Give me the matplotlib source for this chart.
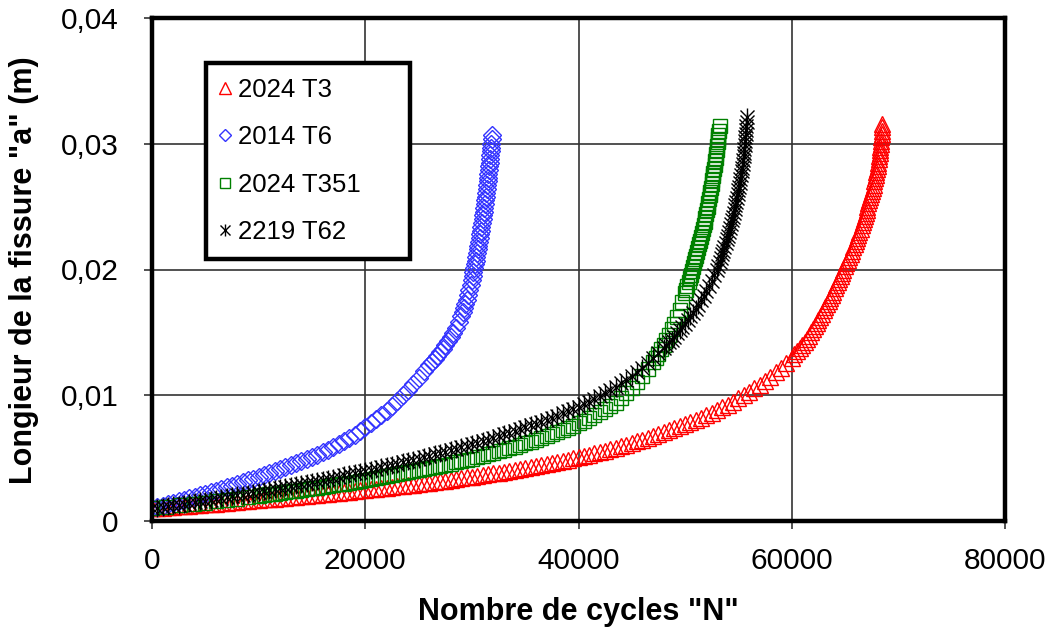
import numpy as np
import matplotlib
matplotlib.use('Agg')
import matplotlib.pyplot as plt
from matplotlib.ticker import FuncFormatter
from matplotlib.legend_handler import HandlerTuple

plt.rcParams['font.family'] = ['Liberation Sans', 'DejaVu Sans']

# (N cycles, crack length a in mm) for each alloy
pts_t3 = [
    (0, 1.00), (500, 1.03), (1000, 1.06), (1500, 1.10), (2000, 1.13), (2500, 1.16),
    (3000, 1.19), (3500, 1.23), (4000, 1.26), (4500, 1.29), (5000, 1.32), (5500, 1.36),
    (6000, 1.39), (6500, 1.43), (7000, 1.46), (7500, 1.50), (8000, 1.53), (8500, 1.57),
    (9000, 1.60), (9500, 1.64), (10000, 1.67), (10500, 1.71), (11000, 1.74), (11500, 1.78),
    (12000, 1.82), (12500, 1.86), (13000, 1.89), (13500, 1.93), (14000, 1.97), (14500, 2.01),
    (15000, 2.05), (15500, 2.09), (16000, 2.13), (16500, 2.17), (17000, 2.21), (17500, 2.26),
    (18000, 2.30), (18500, 2.34), (19000, 2.38), (19500, 2.43), (20000, 2.47), (20500, 2.52),
    (21000, 2.56), (21500, 2.61), (22000, 2.66), (22500, 2.70), (23000, 2.75), (23500, 2.80),
    (24000, 2.85), (24500, 2.90), (25000, 2.95), (25500, 3.00), (26000, 3.06), (26500, 3.11),
    (27000, 3.17), (27500, 3.22), (28000, 3.28), (28500, 3.34), (29000, 3.40), (29500, 3.46),
    (30000, 3.52), (30500, 3.58), (31000, 3.65), (31500, 3.71), (32000, 3.78), (32500, 3.85),
    (33000, 3.92), (33500, 3.99), (34000, 4.07), (34500, 4.14), (35000, 4.22), (35500, 4.30),
    (36000, 4.38), (36500, 4.46), (37000, 4.54), (37500, 4.62), (38000, 4.71), (38500, 4.80),
    (39000, 4.89), (39500, 4.98), (40000, 5.08), (40500, 5.18), (41000, 5.28), (41500, 5.38),
    (42000, 5.49), (42500, 5.60), (43000, 5.72), (43500, 5.83), (44000, 5.95), (44500, 6.07),
    (45000, 6.20), (45500, 6.33), (46000, 6.47), (46500, 6.61), (47000, 6.75), (47500, 6.89),
    (48000, 7.04), (48500, 7.20), (49000, 7.36), (49500, 7.53), (50000, 7.70), (50500, 7.87),
    (51000, 8.05), (51500, 8.23), (52000, 8.42), (52500, 8.62), (53000, 8.82), (53500, 9.03),
    (54000, 9.25), (54500, 9.50), (55000, 9.75), (55500, 10.01), (56000, 10.28), (56500, 10.56),
    (57000, 10.85), (57500, 11.16), (58000, 11.48), (58500, 11.82), (59000, 12.18), (59500, 12.58),
    (60000, 13.00), (60250, 13.25), (60500, 13.50), (60750, 13.75), (61000, 14.00), (61200, 14.25),
    (61400, 14.50), (61600, 14.75), (61800, 15.00), (61980, 15.25), (62150, 15.50), (62330, 15.75),
    (62500, 16.00), (62670, 16.25), (62830, 16.50), (62990, 16.75), (63150, 17.00), (63300, 17.25),
    (63450, 17.50), (63600, 17.75), (63750, 18.00), (63890, 18.25), (64030, 18.50), (64170, 18.75),
    (64300, 19.00), (64440, 19.25), (64580, 19.50), (64720, 19.75), (64850, 20.00), (64990, 20.25),
    (65130, 20.50), (65270, 20.75), (65400, 21.00), (65520, 21.25), (65650, 21.50), (65780, 21.75),
    (65900, 22.00), (66020, 22.25), (66130, 22.50), (66240, 22.75), (66350, 23.00), (66450, 23.25),
    (66550, 23.50), (66650, 23.75), (66750, 24.00), (66840, 24.25), (66930, 24.50), (67020, 24.75),
    (67100, 25.00), (67190, 25.25), (67280, 25.50), (67370, 25.75), (67450, 26.00), (67530, 26.25),
    (67600, 26.50), (67680, 26.75), (67750, 27.00), (67820, 27.25), (67880, 27.50), (67940, 27.75),
    (68000, 28.00), (68050, 28.25), (68100, 28.50), (68150, 28.75), (68200, 29.00), (68240, 29.25),
    (68280, 29.50), (68320, 29.75), (68350, 30.00), (68380, 30.25), (68400, 30.50), (68430, 30.75),
    (68450, 31.00), (68480, 31.30), (68500, 31.60)]

pts_t6 = [
    (0, 1.00), (500, 1.115), (1000, 1.23), (1500, 1.345), (2000, 1.46), (2500, 1.575),
    (3000, 1.69), (3500, 1.81), (4000, 1.93), (4500, 2.05), (5000, 2.17), (5500, 2.29),
    (6000, 2.42), (6500, 2.55), (7000, 2.68), (7500, 2.81), (8000, 2.95), (8500, 3.09),
    (9000, 3.23), (9500, 3.37), (10000, 3.51), (10500, 3.65), (11000, 3.80), (11500, 3.95),
    (12000, 4.10), (12500, 4.26), (13000, 4.42), (13500, 4.59), (14000, 4.76), (14500, 4.93),
    (15000, 5.10), (15500, 5.28), (16000, 5.47), (16500, 5.67), (17000, 5.88), (17500, 6.11),
    (18000, 6.35), (18500, 6.60), (19000, 6.87), (19500, 7.15), (20000, 7.45), (20500, 7.76),
    (21000, 8.08), (21500, 8.42), (22000, 8.78), (22500, 9.16), (23000, 9.56), (23500, 10.00),
    (24000, 10.45), (24500, 10.92), (25000, 11.40), (25500, 11.90), (26000, 12.40), (26250, 12.65),
    (26500, 12.90), (26750, 13.16), (27000, 13.42), (27250, 13.70), (27500, 13.98), (27750, 14.29),
    (28000, 14.60), (28250, 14.97), (28500, 15.35), (28750, 15.80), (29000, 16.30), (29130, 16.60),
    (29250, 16.90), (29380, 17.25), (29500, 17.60), (29630, 18.00), (29760, 18.40), (29880, 18.80),
    (30000, 19.20), (30070, 19.50), (30140, 19.80), (30210, 20.10), (30280, 20.40), (30345, 20.70),
    (30410, 21.00), (30475, 21.30), (30540, 21.60), (30600, 21.90), (30660, 22.20), (30720, 22.50),
    (30780, 22.80), (30840, 23.10), (30900, 23.40), (30955, 23.70), (31010, 24.00), (31060, 24.30),
    (31110, 24.60), (31160, 24.90), (31210, 25.20), (31255, 25.50), (31300, 25.80), (31345, 26.10),
    (31390, 26.40), (31430, 26.70), (31470, 27.00), (31510, 27.30), (31550, 27.60), (31590, 27.90),
    (31630, 28.20), (31665, 28.50), (31700, 28.80), (31735, 29.10), (31770, 29.40), (31805, 29.70),
    (31840, 30.00), (31885, 30.35), (31930, 30.70)]

pts_t351 = [
    (0, 1.00), (1300, 1.12), (2600, 1.24), (3900, 1.36), (5000, 1.47), (6000, 1.57),
    (7000, 1.67), (8000, 1.78), (9000, 1.89), (10000, 2.00), (10500, 2.055), (11000, 2.11),
    (11500, 2.17), (12000, 2.23), (12500, 2.29), (13000, 2.35), (13500, 2.41), (14000, 2.47),
    (14500, 2.53), (15000, 2.59), (15500, 2.655), (16000, 2.72), (16500, 2.785), (17000, 2.85),
    (17500, 2.915), (18000, 2.98), (18500, 3.05), (19000, 3.12), (19500, 3.19), (20000, 3.26),
    (20500, 3.33), (21000, 3.40), (21500, 3.475), (22000, 3.55), (22500, 3.625), (23000, 3.70),
    (23500, 3.78), (24000, 3.86), (24500, 3.94), (25000, 4.02), (25500, 4.105), (26000, 4.19),
    (26500, 4.28), (27000, 4.37), (27500, 4.465), (28000, 4.56), (28500, 4.66), (29000, 4.76),
    (29500, 4.865), (30000, 4.97), (30500, 5.08), (31000, 5.19), (31500, 5.30), (32000, 5.42),
    (32500, 5.54), (33000, 5.66), (33500, 5.78), (34000, 5.91), (34500, 6.04), (35000, 6.17),
    (35500, 6.31), (36000, 6.45), (36500, 6.60), (37000, 6.75), (37500, 6.91), (38000, 7.07),
    (38500, 7.24), (39000, 7.41), (39500, 7.59), (40000, 7.78), (40500, 7.98), (41000, 8.18),
    (41500, 8.40), (42000, 8.63), (42500, 8.88), (43000, 9.14), (43500, 9.42), (44000, 9.80),
    (44500, 10.20), (45000, 10.60), (45500, 11.05), (46000, 11.50), (46500, 12.05), (47000, 12.65),
    (47250, 12.97), (47500, 13.30), (47750, 13.64), (48000, 14.00), (48250, 14.39), (48500, 14.80),
    (48750, 15.24), (49000, 15.70), (49250, 16.23), (49500, 16.80), (49750, 17.43), (50000, 18.10),
    (50110, 18.40), (50220, 18.70), (50330, 19.00), (50440, 19.30), (50545, 19.60), (50650, 19.90),
    (50750, 20.20), (50850, 20.50), (50950, 20.80), (51050, 21.10), (51145, 21.40), (51240, 21.70),
    (51330, 22.00), (51420, 22.30), (51505, 22.60), (51590, 22.90), (51670, 23.20), (51750, 23.50),
    (51825, 23.80), (51900, 24.10), (51970, 24.40), (52040, 24.70), (52105, 25.00), (52170, 25.30),
    (52235, 25.60), (52300, 25.90), (52360, 26.20), (52420, 26.50), (52480, 26.80), (52540, 27.10),
    (52595, 27.40), (52650, 27.70), (52705, 28.00), (52760, 28.30), (52810, 28.60), (52860, 28.90),
    (52905, 29.20), (52950, 29.50), (52995, 29.80), (53040, 30.10), (53085, 30.40), (53130, 30.70),
    (53180, 31.05), (53230, 31.40)]

pts_t62 = [
    (0, 1.00), (500, 1.06), (1000, 1.12), (1500, 1.18), (2000, 1.24), (2500, 1.30),
    (3000, 1.36), (3500, 1.425), (4000, 1.49), (4500, 1.555), (5000, 1.62), (5500, 1.685),
    (6000, 1.75), (6500, 1.82), (7000, 1.89), (7500, 1.96), (8000, 2.03), (8500, 2.10),
    (9000, 2.17), (9500, 2.245), (10000, 2.32), (10500, 2.395), (11000, 2.47), (11500, 2.545),
    (12000, 2.62), (12500, 2.70), (13000, 2.78), (13500, 2.86), (14000, 2.94), (14500, 3.02),
    (15000, 3.10), (15500, 3.185), (16000, 3.27), (16500, 3.355), (17000, 3.44), (17500, 3.53),
    (18000, 3.62), (18500, 3.71), (19000, 3.80), (19500, 3.89), (20000, 3.98), (20500, 4.07),
    (21000, 4.17), (21500, 4.26), (22000, 4.36), (22500, 4.46), (23000, 4.56), (23500, 4.66),
    (24000, 4.76), (24500, 4.87), (25000, 4.97), (25500, 5.08), (26000, 5.18), (26500, 5.29),
    (27000, 5.40), (27500, 5.52), (28000, 5.63), (28500, 5.75), (29000, 5.86), (29500, 5.98),
    (30000, 6.10), (30500, 6.23), (31000, 6.35), (31500, 6.48), (32000, 6.61), (32500, 6.74),
    (33000, 6.88), (33500, 7.02), (34000, 7.16), (34500, 7.30), (35000, 7.45), (35500, 7.60),
    (36000, 7.75), (36500, 7.90), (37000, 8.06), (37500, 8.22), (38000, 8.38), (38500, 8.55),
    (39000, 8.72), (39500, 8.89), (40000, 9.07), (40500, 9.27), (41000, 9.48), (41500, 9.70),
    (42000, 9.93), (42500, 10.17), (43000, 10.42), (43500, 10.68), (44000, 10.95), (44500, 11.24),
    (45000, 11.54), (45500, 11.86), (46000, 12.20), (46500, 12.56), (47000, 12.94), (47500, 13.34),
    (48000, 13.76), (48250, 13.98), (48500, 14.20), (48750, 14.43), (49000, 14.67), (49250, 14.92),
    (49500, 15.17), (49750, 15.43), (50000, 15.70), (50250, 15.98), (50500, 16.27), (50750, 16.57),
    (51000, 16.88), (51250, 17.21), (51500, 17.55), (51750, 17.91), (52000, 18.28), (52250, 18.68),
    (52500, 19.10), (52750, 19.55), (53000, 20.00), (53120, 20.30), (53240, 20.60), (53355, 20.90),
    (53470, 21.20), (53580, 21.50), (53690, 21.80), (53795, 22.10), (53900, 22.40), (54000, 22.70),
    (54100, 23.00), (54195, 23.30), (54290, 23.60), (54380, 23.90), (54470, 24.20), (54555, 24.50),
    (54640, 24.80), (54715, 25.10), (54790, 25.40), (54860, 25.70), (54930, 26.00), (54995, 26.30),
    (55060, 26.60), (55120, 26.90), (55180, 27.20), (55235, 27.50), (55290, 27.80), (55340, 28.10),
    (55390, 28.40), (55435, 28.70), (55480, 29.00), (55520, 29.30), (55560, 29.60), (55595, 29.90),
    (55630, 30.20), (55660, 30.50), (55690, 30.80), (55720, 31.10), (55750, 31.40), (55775, 31.75),
    (55800, 32.10)]

labels = ['2024 T3', '2014 T6', '2024 T351', '2219 T62']


def split(pts):
    n, a = zip(*pts)
    return np.array(n), np.array(a) / 1000.0   # mm -> m


fig = plt.figure(figsize=(10.53, 6.32), dpi=100)
ax = fig.add_axes([152 / 1053, 1 - 521 / 632, 853 / 1053, 503 / 632])

mk = dict(ls='none', mfc='none', mew=1.0)
n, a = split(pts_t3)
h1, = ax.plot(n, a, marker='^', ms=12, mec='#ff0000', **mk)
n, a = split(pts_t6)
h2, = ax.plot(n, a, marker='D', ms=9.5, mec='#3333ff', **mk)
n, a = split(pts_t351)
h3, = ax.plot(n, a, marker='s', ms=10.5, mec='#008000', **mk)
# six-arm asterisk = x + vertical bar
n, a = split(pts_t62)
h4a, = ax.plot(n, a, marker='x', ms=10, mec='k', **mk)
h4b, = ax.plot(n, a, marker='|', ms=13, mec='k', **mk)

ax.set_xlim(0, 80000)
ax.set_ylim(0, 0.04)
ax.set_xticks(np.arange(0, 80001, 20000))
ax.set_yticks(np.arange(0, 0.0401, 0.01))
ax.yaxis.set_major_formatter(FuncFormatter(lambda v, p: '0' if v == 0 else ('%.2f' % v).replace('.', ',')))
ax.grid(True, color='#333333', lw=1.2)
ax.set_axisbelow(True)
for s in ax.spines.values():
    s.set_linewidth(3.2)
ax.tick_params(direction='out', length=6, width=1.2, labelsize=21.5, color='#333333')
ax.tick_params(axis='x', pad=13)
ax.tick_params(axis='y', pad=18)

leg = ax.legend([h1, h2, h3, (h4a, h4b)], labels,
                handler_map={tuple: HandlerTuple(ndivide=1)},
                loc='upper left', bbox_to_anchor=(0.0633, 0.5, 0.239, 0.4105),
                mode='expand', borderaxespad=0, fontsize=18.5, markerscale=0.68,
                handlelength=0.35, handletextpad=0.3, labelspacing=0.91,
                borderpad=0.58, fancybox=False, framealpha=1, edgecolor='k')
leg.get_frame().set_linewidth(3.2)

fig.text(578 / 1053, 1 - 612 / 632, 'Nombre de cycles "N"', ha='center', va='center',
         fontsize=22, fontweight='bold')
fig.text(24 / 1053, 1 - 270 / 632, 'Longieur de la fissure "a" (m)', ha='center', va='center',
         rotation=90, fontsize=22, fontweight='bold')

fig.savefig('out.png', dpi=100)
